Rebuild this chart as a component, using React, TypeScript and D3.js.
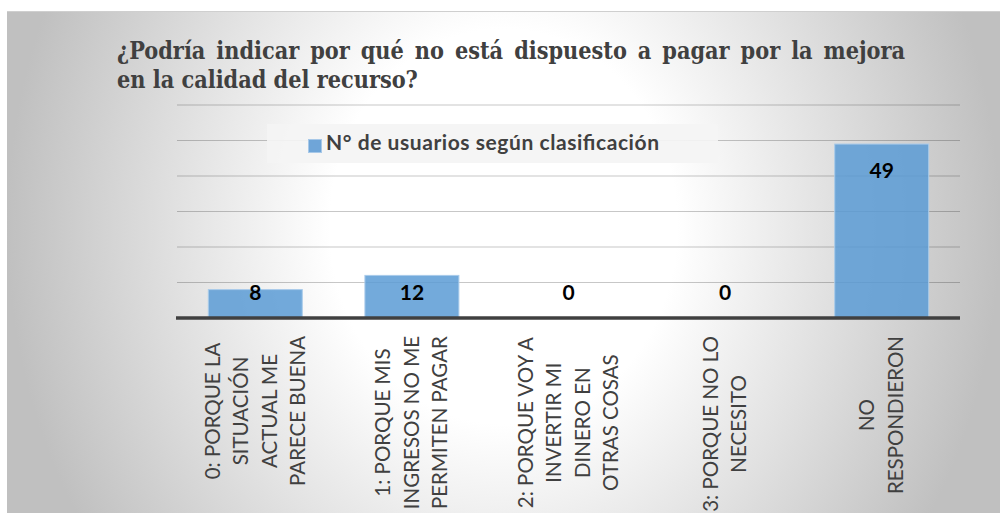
import { useMemo } from "react";
import * as d3 from "d3";

// chart data
const categories = ["0", "1", "2", "3", "NR"];
const categoryLines = [
    ["0: PORQUE LA", "SITUACIÓN", "ACTUAL ME", "PARECE BUENA"],
    ["1: PORQUE MIS", "INGRESOS NO ME", "PERMITEN PAGAR"],
    ["2: PORQUE VOY A", "INVERTIR MI", "DINERO EN", "OTRAS COSAS"],
    ["3: PORQUE NO LO", "NECESITO"],
    ["NO", "RESPONDIERON"],
];
const values = [8, 12, 0, 0, 49];
const yTicks = [10, 20, 30, 40, 50, 60];
const seriesName = "N° de usuarios según clasificación";
const titleLines = [
    "¿Podría indicar por qué no está dispuesto a pagar por la mejora",
    "en la calidad del recurso?",
];

const W = 1000;
const H = 513;
const plot = { left: 177, right: 960, top: 105, bottom: 318 };

const SERIF = "'DejaVu Serif Condensed', 'DejaVu Serif', serif";
const SANS = "Lato, 'Open Sans', sans-serif";
const LABEL_SIZE = 20.5;

let ctx: CanvasRenderingContext2D | null = null;
function measure(text: string, font: string) {
    if (!ctx) ctx = document.createElement("canvas").getContext("2d");
    if (!ctx) return text.length * 10;
    ctx.font = font;
    return ctx.measureText(text).width;
}

export default function App() {
    const x = useMemo(
        () => d3.scaleBand<string>().domain(categories).range([plot.left, plot.right]).paddingInner(0.4).paddingOuter(0.2),
        []
    );
    const y = useMemo(() => d3.scaleLinear().domain([0, 60]).range([plot.bottom, plot.top]), []);

    // title: line 2 spans 117..418, line 1 justified to 905
    const title = useMemo(() => {
        const base = measure(titleLines[1], `bold 25px ${SERIF}`);
        const size = Math.min(25, (25 * 301) / base);
        const font = `bold ${size}px ${SERIF}`;
        const words = titleLines[0].split(" ");
        const widths = words.map((w) => measure(w, font));
        const gap = (905 - 117 - d3.sum(widths)) / (words.length - 1);
        let cx = 117;
        const placed = words.map((w, i) => {
            const pos = cx;
            cx += widths[i] + gap;
            return { w, pos };
        });
        return { size, placed };
    }, []);

    const labelBlocks = useMemo(
        () =>
            categoryLines.map((lines) => {
                const maxW = d3.max(lines, (l) => measure(l, `${LABEL_SIZE}px Lato`)) ?? 0;
                return { lines, center: 336 + maxW / 2 };
            }),
        []
    );

    const lineGap = 28.5;

    return (
        <svg width={W} height={H} style={{ position: "absolute", left: 0, top: 0, display: "block" }}>
            <defs>
                <radialGradient id="bg" cx="0.5" cy="0.42" r="0.5" gradientTransform="translate(0.5,0.42) scale(1,2.2) translate(-0.5,-0.42)">
                    <stop offset="0" stopColor="#ffffff" />
                    <stop offset="0.35" stopColor="#ffffff" />
                    <stop offset="1" stopColor="#c0c0c0" />
                </radialGradient>
            </defs>
            <rect x={0} y={0} width={W} height={H} fill="#ffffff" />
            <rect x={7} y={11} width={W - 7} height={H} fill="url(#bg)" />
            <line x1={7} x2={W} y1={11.5} y2={11.5} stroke="#cfcfcf" />

            {/* title */}
            <g fontFamily={SERIF} fontWeight="bold" fontSize={title.size} fill="#404040">
                {title.placed.map((t, i) => (
                    <text key={i} x={t.pos} y={59}>{t.w}</text>
                ))}
                <text x={117} y={88}>{titleLines[1]}</text>
            </g>

            {/* gridlines */}
            {yTicks.map((t) => (
                <line key={t} x1={plot.left} x2={plot.right} y1={y(t)} y2={y(t)} stroke="rgba(0,0,0,0.22)" strokeWidth={1} />
            ))}

            {/* legend */}
            <rect x={267} y={124} width={451} height={39} fill="rgba(244,244,244,0.92)" />
            <rect x={308.5} y={139.5} width={13} height={13} fill="#6fa5d8" stroke="#a7c8e8" />
            <text x={326} y={150} fontFamily={SANS} fontWeight="bold" fontSize={21} textLength={333} lengthAdjust="spacing" fill="#404040">
                {seriesName}
            </text>

            {/* bars */}
            {values.map((v, i) => (
                <rect
                    key={i}
                    x={x(categories[i])!}
                    y={y(v)}
                    width={x.bandwidth()}
                    height={y(0) - y(v)}
                    fill="#5b9bd5"
                    fillOpacity={0.85}
                    stroke="#a9cbea"
                    strokeWidth={1}
                />
            ))}

            {/* axis */}
            <line x1={plot.left - 1} x2={plot.right} y1={y(0)} y2={y(0)} stroke="#404040" strokeWidth={3.5} />

            {/* value labels */}
            {values.map((v, i) => (
                <text
                    key={i}
                    x={x(categories[i])! + x.bandwidth() / 2}
                    y={Math.min(y(v) + 34, y(0) - 18)}
                    textAnchor="middle"
                    fontFamily={SANS}
                    fontWeight="bold"
                    fontSize={21}
                    fill="#000000"
                >
                    {v}
                </text>
            ))}

            {/* category labels */}
            {labelBlocks.map((b, i) => (
                <g
                    key={i}
                    transform={`translate(${x(categories[i])! + x.bandwidth() / 2},${b.center}) rotate(-90)`}
                    fontFamily={SANS}
                    fontSize={LABEL_SIZE}
                    fill="#404040"
                >
                    {b.lines.map((l, j) => (
                        <text key={j} x={0} y={(j - (b.lines.length - 1) / 2) * lineGap + 7} textAnchor="middle">
                            {l}
                        </text>
                    ))}
                </g>
            ))}
        </svg>
    );
}
